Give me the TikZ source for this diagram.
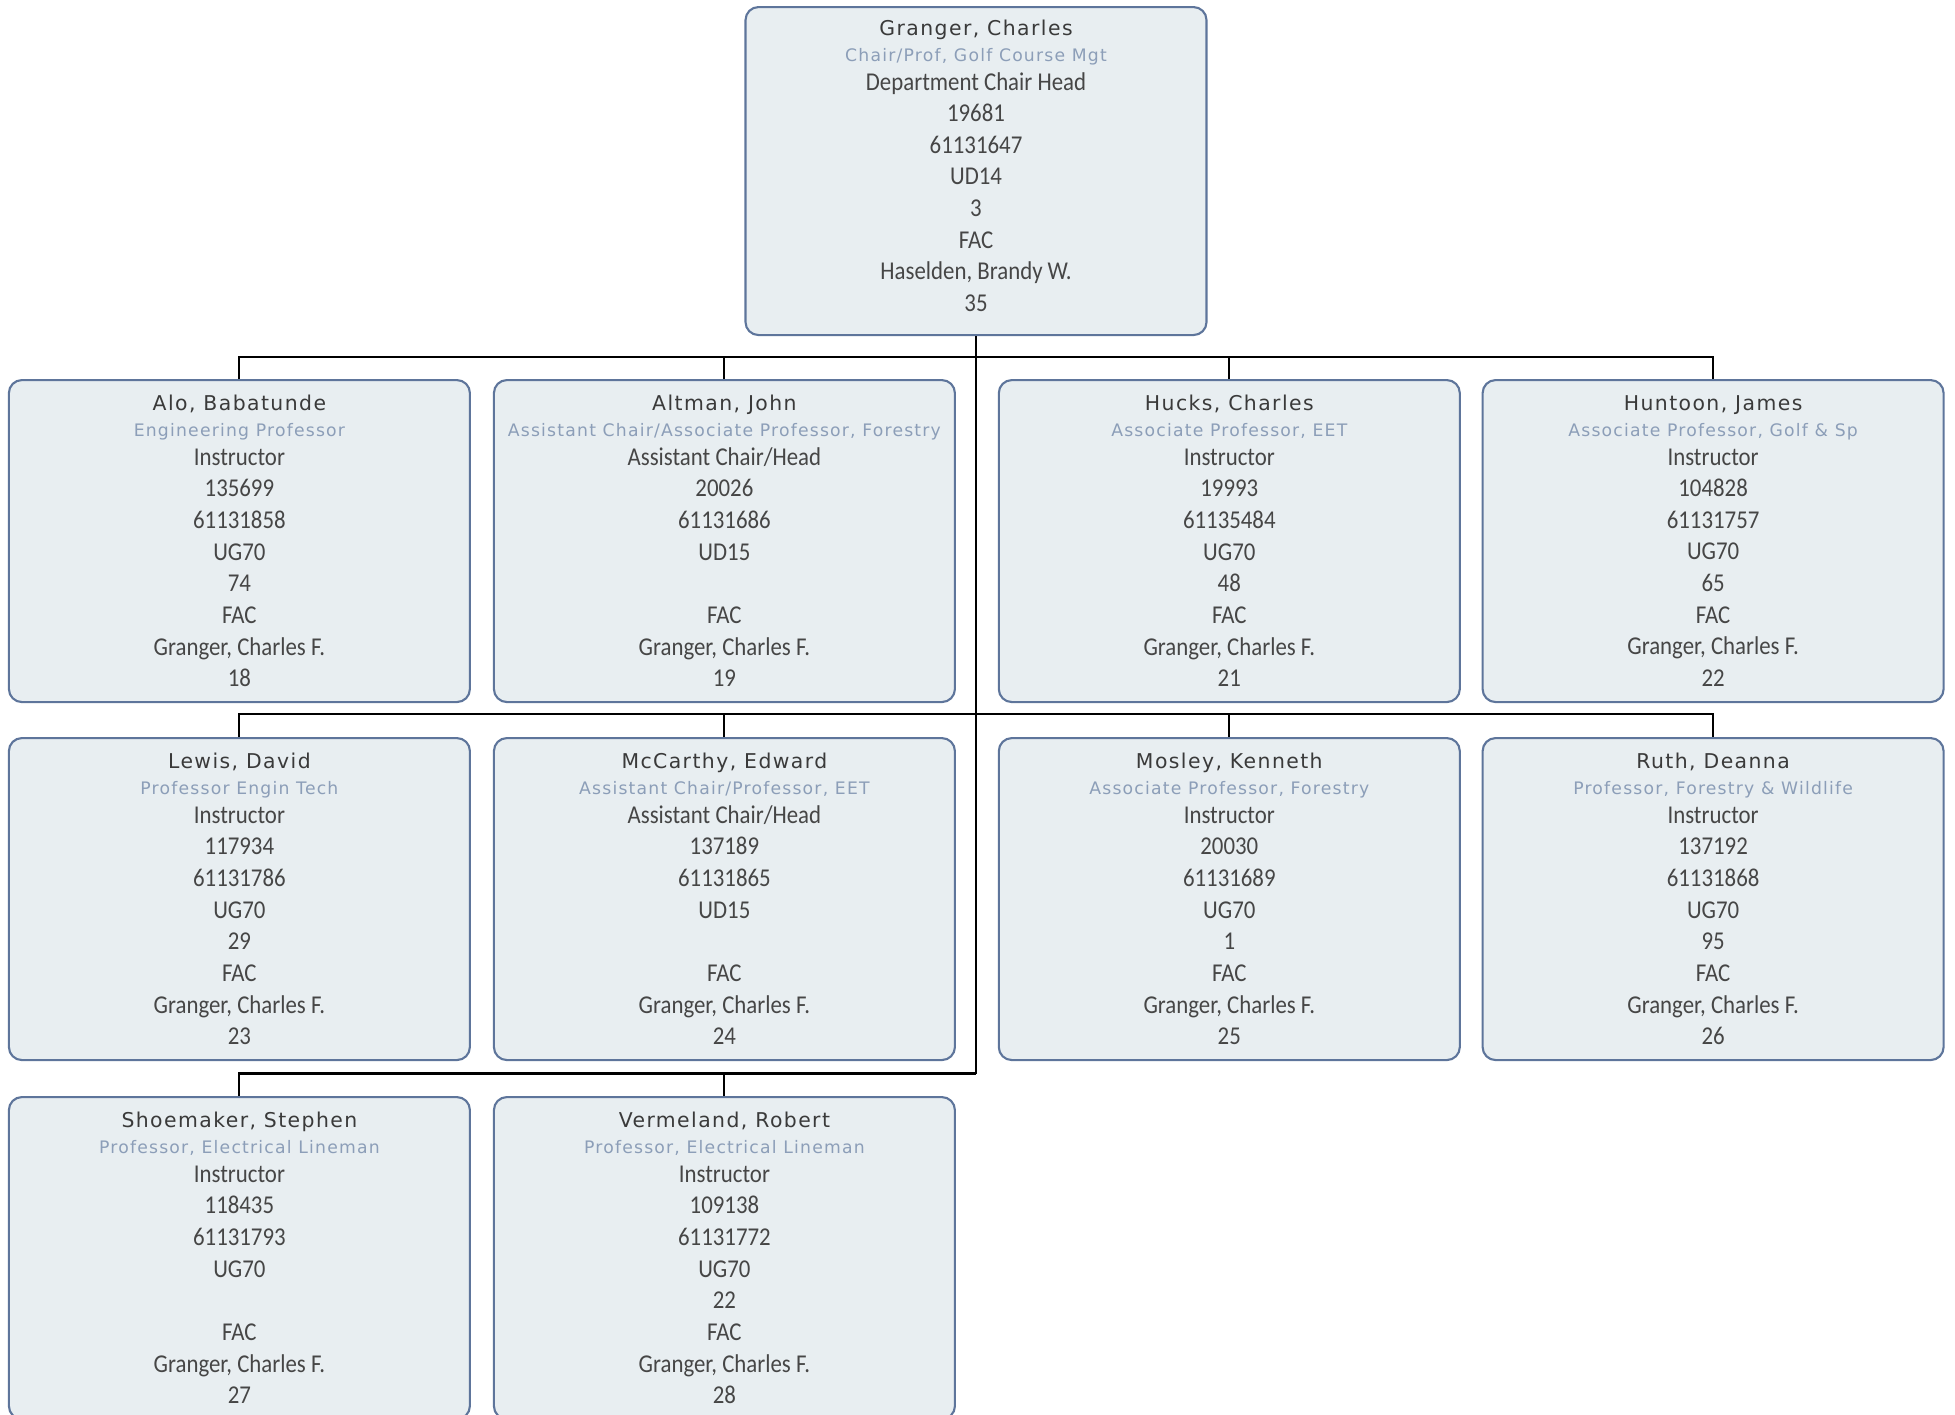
\documentclass[tikz,border=0pt]{standalone}
\usepackage{fontspec}
\setmainfont{Carlito}[FakeStretch=0.89]
\newfontfamily\namefamily{DejaVu Sans}[LetterSpace=7]
\usetikzlibrary{positioning}

\definecolor{boxfill}{RGB}{232,238,241}
\definecolor{boxline}{RGB}{94,117,155}
\definecolor{titlegray}{RGB}{140,158,184}
\definecolor{textgray}{RGB}{70,70,70}
\definecolor{namegray}{RGB}{58,58,58}

\newcommand{\pname}[1]{{\namefamily\fontsize{5.8}{7}\selectfont\color{namegray}#1}}
\newcommand{\ptitle}[1]{{\namefamily\fontsize{4.9}{6}\selectfont\color{titlegray}#1}}

\begin{document}
\begin{tikzpicture}[
  person/.style={draw=boxline, fill=boxfill, line width=0.6pt, rounded corners=0.13cm,
    minimum width=4.61cm, minimum height=3.22cm, anchor=north, align=center,
    text=textgray, font=\fontsize{7.3}{9}\selectfont, inner sep=0pt},
  link/.style={line width=0.6pt, black}
]
\useasboundingbox (0,0) rectangle (19.55,-14.14);

% department chair
\node[person, minimum height=3.28cm] (granger) at (9.76,-0.06)
  {\pname{Granger, Charles}\\[-1.6pt]\ptitle{Chair/Prof, Golf Course Mgt}\\[-0.9pt]Department Chair Head\\19681\\61131647\\UD14\\3\\FAC\\Haselden, Brandy W.\\35\\[-6pt]\mbox{}};

% first row
\node[person] (alo) at (2.394,-3.79)
  {\pname{Alo, Babatunde}\\[-1.6pt]\ptitle{Engineering Professor}\\[-0.9pt]Instructor\\135699\\61131858\\UG70\\74\\FAC\\Granger, Charles F.\\18};
\node[person] (altman) at (7.244,-3.79)
  {\pname{Altman, John}\\[-1.6pt]\ptitle{Assistant Chair/Associate Professor, Forestry}\\[-0.9pt]Assistant Chair/Head\\20026\\61131686\\UD15\\\mbox{}\\FAC\\Granger, Charles F.\\19};
\node[person] (hucks) at (12.293,-3.79)
  {\pname{Hucks, Charles}\\[-1.6pt]\ptitle{Associate Professor, EET}\\[-0.9pt]Instructor\\19993\\61135484\\UG70\\48\\FAC\\Granger, Charles F.\\21};
\node[person] (huntoon) at (17.131,-3.79)
  {\pname{Huntoon, James}\\[-1.6pt]\ptitle{Associate Professor, Golf \& Sp}\\[-0.9pt]Instructor\\104828\\61131757\\UG70\\65\\FAC\\Granger, Charles F.\\22};

% second row
\node[person] (lewis) at (2.394,-7.37)
  {\pname{Lewis, David}\\[-1.6pt]\ptitle{Professor Engin Tech}\\[-0.9pt]Instructor\\117934\\61131786\\UG70\\29\\FAC\\Granger, Charles F.\\23};
\node[person] (mccarthy) at (7.244,-7.37)
  {\pname{McCarthy, Edward}\\[-1.6pt]\ptitle{Assistant Chair/Professor, EET}\\[-0.9pt]Assistant Chair/Head\\137189\\61131865\\UD15\\\mbox{}\\FAC\\Granger, Charles F.\\24};
\node[person] (mosley) at (12.293,-7.37)
  {\pname{Mosley, Kenneth}\\[-1.6pt]\ptitle{Associate Professor, Forestry}\\[-0.9pt]Instructor\\20030\\61131689\\UG70\\1\\FAC\\Granger, Charles F.\\25};
\node[person] (ruth) at (17.131,-7.37)
  {\pname{Ruth, Deanna}\\[-1.6pt]\ptitle{Professor, Forestry \& Wildlife}\\[-0.9pt]Instructor\\137192\\61131868\\UG70\\95\\FAC\\Granger, Charles F.\\26};

% third row
\node[person] (shoemaker) at (2.394,-10.96)
  {\pname{Shoemaker, Stephen}\\[-1.6pt]\ptitle{Professor, Electrical Lineman}\\[-0.9pt]Instructor\\118435\\61131793\\UG70\\\mbox{}\\FAC\\Granger, Charles F.\\27};
\node[person] (vermeland) at (7.244,-10.96)
  {\pname{Vermeland, Robert}\\[-1.6pt]\ptitle{Professor, Electrical Lineman}\\[-0.9pt]Instructor\\109138\\61131772\\UG70\\22\\FAC\\Granger, Charles F.\\28};

% connectors
\coordinate (busone) at (9.76,-3.566);
\coordinate (bustwo) at (9.76,-7.144);
\coordinate (busthree) at (9.76,-10.735);

\draw[link] (granger.south) -- (busthree);
\draw[link] (alo.north) |- (huntoon.north |- busone) -- (huntoon.north);
\draw[link] (altman.north) -- (altman.north |- busone);
\draw[link] (hucks.north) -- (hucks.north |- busone);
\draw[link] (lewis.north) |- (ruth.north |- bustwo) -- (ruth.north);
\draw[link] (mccarthy.north) -- (mccarthy.north |- bustwo);
\draw[link] (mosley.north) -- (mosley.north |- bustwo);
\draw[link] (shoemaker.north) |- (busthree);
\draw[link] (vermeland.north) -- (vermeland.north |- busthree);

\end{tikzpicture}
\end{document}
